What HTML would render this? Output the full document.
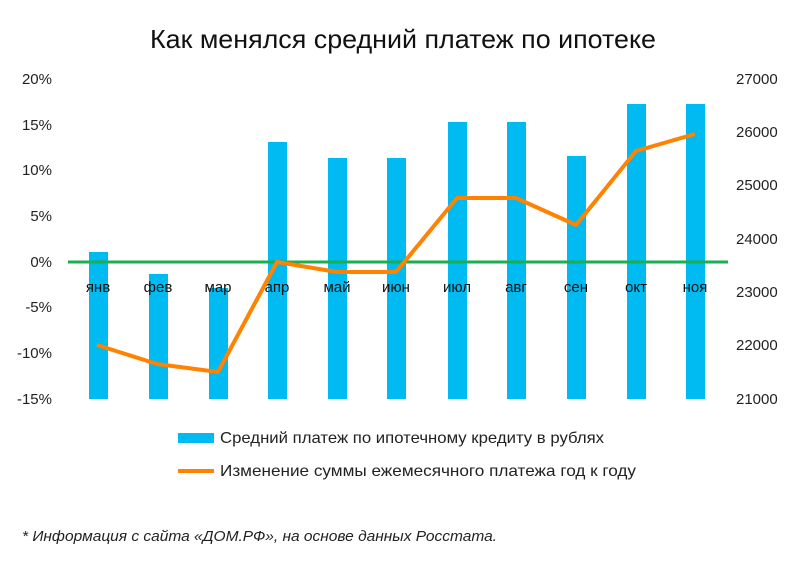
<!DOCTYPE html>
<html><head><meta charset="utf-8"><style>
body{margin:0;background:#fff;}
svg{display:block;font-family:"Liberation Sans","DejaVu Sans",sans-serif;}
</style></head><body>
<svg width="800" height="569" xmlns="http://www.w3.org/2000/svg">
<rect width="800" height="569" fill="#fff"/>
<text x="150" y="48" font-size="26" textLength="506" lengthAdjust="spacingAndGlyphs" fill="#111">Как менялся средний платеж по ипотеке</text>
<g font-size="15" fill="#222" text-anchor="end">
<text x="52" y="84">20%</text><text x="52" y="130">15%</text><text x="52" y="175">10%</text>
<text x="52" y="221">5%</text><text x="52" y="267">0%</text><text x="52" y="312">-5%</text>
<text x="52" y="358">-10%</text><text x="52" y="404">-15%</text>
</g>
<g font-size="15" fill="#222" text-anchor="start">
<text x="736" y="84">27000</text><text x="736" y="137">26000</text><text x="736" y="190">25000</text>
<text x="736" y="244">24000</text><text x="736" y="297">23000</text><text x="736" y="350">22000</text>
<text x="736" y="404">21000</text>
</g>
<g fill="#00BAF2">
<rect x="89" y="252" width="19" height="147"/>
<rect x="149" y="274" width="19" height="125"/>
<rect x="209" y="288" width="19" height="111"/>
<rect x="268" y="142" width="19" height="257"/>
<rect x="328" y="158" width="19" height="241"/>
<rect x="387" y="158" width="19" height="241"/>
<rect x="448" y="122" width="19" height="277"/>
<rect x="507" y="122" width="19" height="277"/>
<rect x="567" y="156" width="19" height="243"/>
<rect x="627" y="104" width="19" height="295"/>
<rect x="686" y="104" width="19" height="295"/>
</g>
<line x1="68" y1="262" x2="728" y2="262" stroke="#1AAF4F" stroke-width="3"/>
<g font-size="15" fill="#111" text-anchor="middle">
<text x="98" y="292">янв</text><text x="158" y="292">фев</text><text x="218" y="292">мар</text>
<text x="277" y="292">апр</text><text x="337" y="292">май</text><text x="396" y="292">июн</text>
<text x="457" y="292">июл</text><text x="516" y="292">авг</text><text x="576" y="292">сен</text>
<text x="636" y="292">окт</text><text x="695" y="292">ноя</text>
</g>
<polyline fill="none" stroke="#FF8200" stroke-width="4" stroke-linejoin="round" points="97,345 157,364 218,372 277,262 337,272 396,272 457,198 516,198 576,225 636,151 695,134"/>
<rect x="178" y="433" width="36" height="10" fill="#00BAF2"/>
<text x="220" y="443" font-size="16" textLength="384" lengthAdjust="spacingAndGlyphs" fill="#222">Средний платеж по ипотечному кредиту в рублях</text>
<line x1="178" y1="471" x2="214" y2="471" stroke="#FF8200" stroke-width="4"/>
<text x="220" y="476" font-size="16" textLength="416" lengthAdjust="spacingAndGlyphs" fill="#222">Изменение суммы ежемесячного платежа год к году</text>
<text x="22" y="541" font-size="15" font-style="italic" textLength="475" lengthAdjust="spacingAndGlyphs" fill="#222">* Информация с сайта «ДОМ.РФ», на основе данных Росстата.</text>
</svg>
</body></html>
